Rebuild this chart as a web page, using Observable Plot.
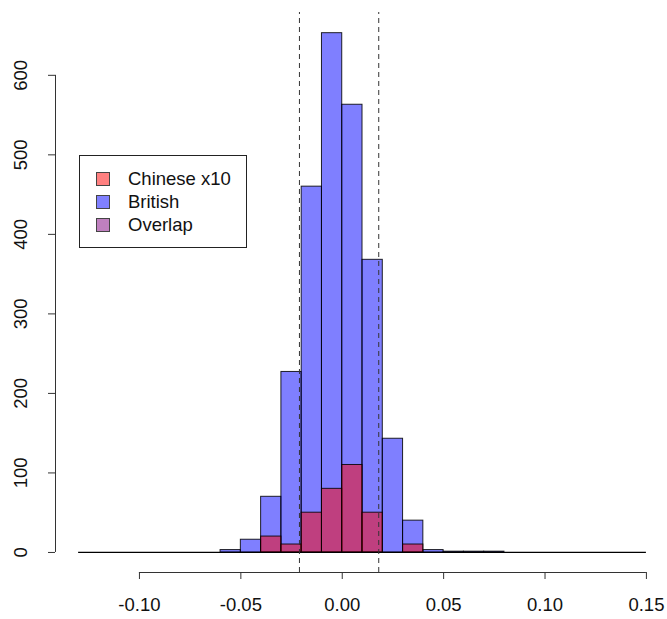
<!DOCTYPE html>
<html>
<head>
<meta charset="utf-8">
<script src="https://cdn.jsdelivr.net/npm/d3@7"></script>
<script src="https://cdn.jsdelivr.net/npm/@observablehq/plot@0.6"></script>
<style>
  html, body { margin: 0; padding: 0; background: #fff; }
  #wrap { position: relative; width: 667px; height: 619px; font-family: "Liberation Sans", Arial, sans-serif; }
  #legend { position: absolute; left: 79px; top: 155px; width: 166px; height: 91px; border: 1px solid #222; background: #fff; }
  .item { position: absolute; left: 0; height: 20px; font-size: 18.5px; line-height: 20px; color: #111; }
  .sw { position: absolute; left: 16px; top: 3px; width: 12px; height: 12px; border: 1px solid #444; }
  .lab { position: absolute; left: 48px; top: 0; white-space: nowrap; }
</style>
</head>
<body>
<div id="wrap"><div id="chart"></div>
<div id="legend"></div></div>
<script>
// bin left edges (width 0.01)
const binStarts = [-0.13,-0.12,-0.11,-0.10,-0.09,-0.08,-0.07,-0.06,-0.05,-0.04,-0.03,-0.02,-0.01,0.00,0.01,0.02,0.03,0.04,0.05,0.06,0.07,0.08,0.09,0.10,0.11,0.12,0.13,0.14];
const britishCounts = [0,0,0,0,0,0,0,3,16,70,227,460,653,563,368,143,40,3,1,1,1,0,0,0,0,0,0,0];
const chineseBinStarts = [-0.04,-0.03,-0.02,-0.01,0.00,0.01,0.02,0.03];
const chineseCountsX10 = [20,10,50,80,110,50,0,10];
const binWidth = 0.01;
const cutoffs = [-0.0211, 0.0180];
const xTicks = [-0.10,-0.05,0.00,0.05,0.10,0.15];
const yTicks = [0,100,200,300,400,500,600];
const legendLabels = ["Chinese x10","British","Overlap"];
const legendColors = ["#ff8080","#8080ff","#bf80bf"];

const british = binStarts.map((s,i) => ({x1: s, x2: +(s+binWidth).toFixed(2), y: britishCounts[i]})).filter(d => d.y > 0);
const chinese = chineseBinStarts.map((s,i) => ({x1: s, x2: +(s+binWidth).toFixed(2), y: chineseCountsX10[i]})).filter(d => d.y > 0);

const xDomain = [-0.1414, 0.1604];
const yDomain = [-25.2, 679];

const chart = Plot.plot({
  width: 667, height: 619,
  marginLeft: 55, marginRight: 0, marginTop: 12, marginBottom: 47,
  style: {fontFamily: "Liberation Sans, Arial, sans-serif", background: "#fff", overflow: "visible"},
  x: {domain: xDomain, axis: null},
  y: {domain: yDomain, axis: null},
  marks: [
    Plot.ruleY([0], {x1: binStarts[0], x2: binStarts[binStarts.length-1] + binWidth, stroke: "#000", strokeWidth: 1.2}),
    Plot.rectY(british, {x1: "x1", x2: "x2", y1: 0, y2: "y", fill: "rgba(0,0,255,0.5)", stroke: "#000", strokeOpacity: 0.85, strokeWidth: 1}),
    Plot.rectY(chinese, {x1: "x1", x2: "x2", y1: 0, y2: "y", fill: "rgba(255,0,0,0.5)", stroke: "#000", strokeOpacity: 0.85, strokeWidth: 1}),
    Plot.ruleX(cutoffs, {y1: yDomain[0], y2: yDomain[1], stroke: "#333", strokeDasharray: "5,4", strokeWidth: 1}),
    // x axis
    Plot.ruleY([yDomain[0]], {x1: xTicks[0], x2: xTicks[xTicks.length-1], stroke: "#333", strokeWidth: 1}),
    Plot.axisX({ticks: xTicks, tickFormat: d => d.toFixed(2), tickSize: 7, tickPadding: 18, fontSize: 18.5, label: null, stroke: "#333", color: "#111"}),
    // y axis
    Plot.ruleX([xDomain[0]], {y1: yTicks[0], y2: yTicks[yTicks.length-1], stroke: "#333", strokeWidth: 1}),
    Plot.axisY({ticks: yTicks, tickSize: 7, tickFormat: () => "", label: null, stroke: "#333"}),
    Plot.text(yTicks, {y: d => d, text: d => String(d), frameAnchor: "left", dx: -34, rotate: -90, textAnchor: "middle", lineAnchor: "middle", fontSize: 18.5, fill: "#111"})
  ]
});
document.getElementById("chart").appendChild(chart);

const legend = document.getElementById("legend");
legendLabels.forEach((lab, i) => {
  const it = document.createElement("div");
  it.className = "item";
  it.style.top = (13 + i * 23) + "px";
  it.style.width = "100%";
  it.innerHTML = `<div class="sw" style="background:${legendColors[i]}"></div><div class="lab">${lab}</div>`;
  legend.appendChild(it);
});
</script>
</body>
</html>
